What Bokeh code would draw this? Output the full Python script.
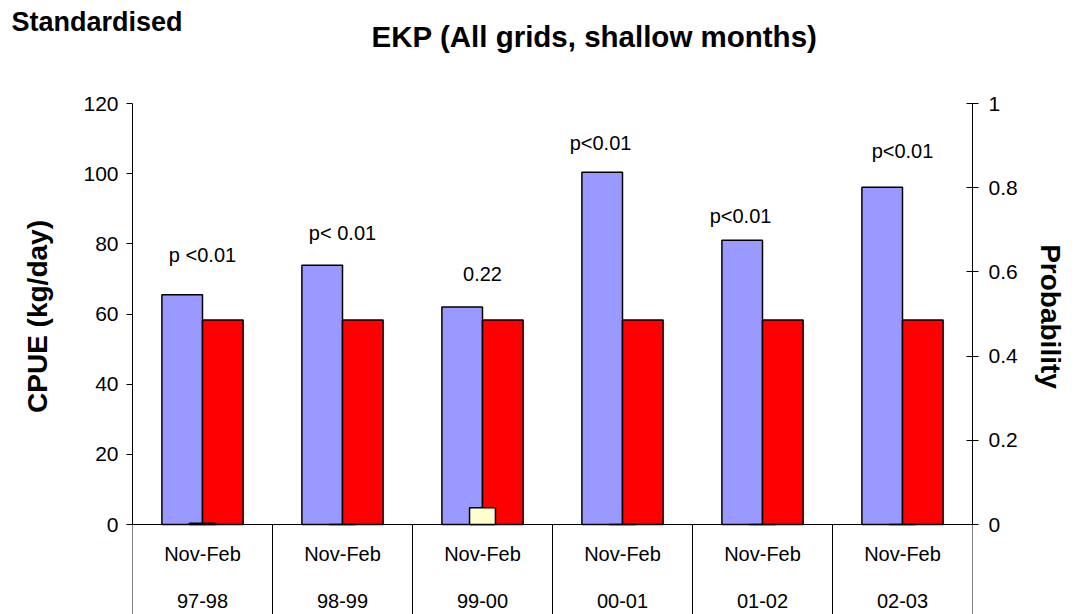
import math
from bokeh.plotting import figure
from bokeh.layouts import column, row
from bokeh.models import (FactorRange, Range1d, LinearAxis, FixedTicker, Span,
                          Label, ColumnDataSource)
from bokeh.transform import dodge
from bokeh.core.properties import value
from bokeh.embed import file_html
from bokeh.resources import INLINE

# ---------------- data ----------------
seasons = ["97-98", "98-99", "99-00", "00-01", "01-02", "02-03"]
period = ["Nov-Feb", "Nov-Feb", "Nov-Feb", "Nov-Feb", "Nov-Feb", "Nov-Feb"]
cpue_season = [65.5, 73.9, 62.0, 100.4, 81.0, 96.1]
cpue_mean = [58.3, 58.3, 58.3, 58.3, 58.3, 58.3]
probability = [0.003, 0.0, 0.04, 0.0, 0.0, 0.0]
p_text = ["p <0.01", "p< 0.01", "0.22", "p<0.01", "p<0.01", "p<0.01"]
p_text_y = [76.7, 83.2, 71.5, 108.6, 87.8, 106.6]
p_text_dx = [0.0, 0.0, 0.0, -0.157, -0.157, 0.0]
cpue_ticks = [0, 20, 40, 60, 80, 100, 120]
prob_ticks = [0, 0.2, 0.4, 0.6, 0.8, 1]

# ---------------- layout constants ----------------
FONT = "Liberation Sans"
HEAD_H = 60
MAIN_H = 614 - HEAD_H
LEFT_W = 70
RIGHT_W = 57
MAIN_W = 1077 - LEFT_W - RIGHT_W
PX_PER_UNIT = 421 / 120.0
Y_END = 120 + 43 / PX_PER_UNIT
Y_START = -90 / PX_PER_UNIT


def blank(w, h):
    f = figure(width=w, height=h, output_backend="svg", toolbar_location=None,
               x_range=Range1d(0, 1), y_range=Range1d(0, 1), title=None,
               x_axis_location=None, y_axis_location=None,
               min_border_left=0, min_border_right=0, min_border_top=0,
               min_border_bottom=0)
    f.outline_line_color = None
    f.xgrid.visible = False
    f.ygrid.visible = False
    return f


# ---------------- header ----------------
head = blank(1077, HEAD_H)
head.add_layout(Label(x=11, y=HEAD_H - 21, x_units="screen", y_units="screen",
                      text="Standardised", text_font=FONT,
                      text_font_size="27px", text_font_style="bold",
                      text_align="left", text_baseline="alphabetic",
                      text_color="black"))
head.add_layout(Label(x=594, y=HEAD_H - 35.5, x_units="screen",
                      y_units="screen",
                      text="EKP (All grids, shallow months)", text_font=FONT,
                      text_font_size="29.5px", text_font_style="bold",
                      text_align="center", text_baseline="alphabetic",
                      text_color="black"))

# ---------------- axis titles ----------------
left_lab = blank(LEFT_W, MAIN_H)
left_lab.add_layout(Label(x=37, y=MAIN_H - (316 - HEAD_H), x_units="screen",
                          y_units="screen", text="CPUE (kg/day)",
                          text_font=FONT, text_font_size="28px",
                          text_font_style="bold", text_align="center",
                          text_baseline="middle", angle=math.pi / 2,
                          text_color="black"))
right_lab = blank(RIGHT_W, MAIN_H)
right_lab.add_layout(Label(x=1050 - (LEFT_W + MAIN_W), y=MAIN_H - (316 - HEAD_H),
                           x_units="screen", y_units="screen",
                           text="Probability", text_font=FONT,
                           text_font_size="28px", text_font_style="bold",
                           text_align="center", text_baseline="middle",
                           angle=-math.pi / 2, text_color="black"))

# ---------------- main chart ----------------
p = figure(width=MAIN_W, height=MAIN_H, output_backend="svg",
           toolbar_location=None,
           x_range=FactorRange(*seasons, range_padding=0, factor_padding=0),
           y_range=Range1d(Y_START, Y_END), title=None,
           x_axis_location=None, min_border_left=132 - LEFT_W,
           min_border_right=LEFT_W + MAIN_W - 974,
           min_border_top=0, min_border_bottom=0)
p.outline_line_color = None
p.xgrid.visible = False
p.ygrid.visible = False

src = ColumnDataSource(dict(season=seasons, period=period, cpue=cpue_season,
                            mean=cpue_mean, prob=probability, txt=p_text,
                            txt_y=p_text_y,
                            txt_x=[(s, d) for s, d in zip(seasons, p_text_dx)]))

ya = p.yaxis[0]
ya.ticker = FixedTicker(ticks=cpue_ticks)
ya.bounds = (0, 120)
ya.axis_line_color = "black"
ya.major_tick_line_color = "black"
ya.major_tick_in = 0
ya.major_tick_out = 6
ya.minor_tick_line_color = None
ya.major_label_standoff = 8
ya.major_label_text_font = FONT
ya.major_label_text_font_size = "21px"
ya.major_label_text_color = "black"

p.extra_y_ranges = {"prob": Range1d(Y_START / 120.0, Y_END / 120.0)}
ra = LinearAxis(y_range_name="prob", ticker=FixedTicker(ticks=prob_ticks),
                bounds=(0, 1))
ra.axis_line_color = "black"
ra.major_tick_line_color = "black"
ra.major_tick_in = 6
ra.major_tick_out = 6
ra.minor_tick_line_color = None
ra.major_label_standoff = 10
ra.major_label_text_font = FONT
ra.major_label_text_font_size = "21px"
ra.major_label_text_color = "black"
p.add_layout(ra, "right")

p.vbar(x=dodge("season", -0.145, range=p.x_range), top="cpue", bottom=0,
       width=0.29, source=src, fill_color="#9999FF", line_color="black",
       line_width=1.5)
p.vbar(x=dodge("season", 0.145, range=p.x_range), top="mean", bottom=0,
       width=0.29, source=src, fill_color="#FF0000", line_color="black",
       line_width=1.5)
p.vbar(x="season", top="prob", bottom=0, width=0.185, source=src,
       y_range_name="prob", fill_color="#FFFFCC", line_color="black",
       line_width=1.5)

p.add_layout(Span(location=0, dimension="width", line_color="black",
                  line_width=1))
p.segment(x0=list(range(len(seasons) + 1)), y0=Y_START,
          x1=list(range(len(seasons) + 1)), y1=0, line_color="black",
          line_width=1)

p.text(x="season", y=-29 / PX_PER_UNIT, text="period", source=src,
       text_align="center", text_baseline="middle", text_font=value(FONT),
       text_font_size="20px", text_color="black")
p.text(x="season", y=-76 / PX_PER_UNIT, text="season", source=src,
       text_align="center", text_baseline="middle", text_font=value(FONT),
       text_font_size="20px", text_color="black")
p.text(x="txt_x", y="txt_y", text="txt", source=src, text_align="center",
       text_baseline="middle", text_font=value(FONT), text_font_size="20px",
       text_color="black")

layout = column(head, row(left_lab, p, right_lab, spacing=0), spacing=0)

open("out.html", "w").write(file_html(layout, INLINE))
